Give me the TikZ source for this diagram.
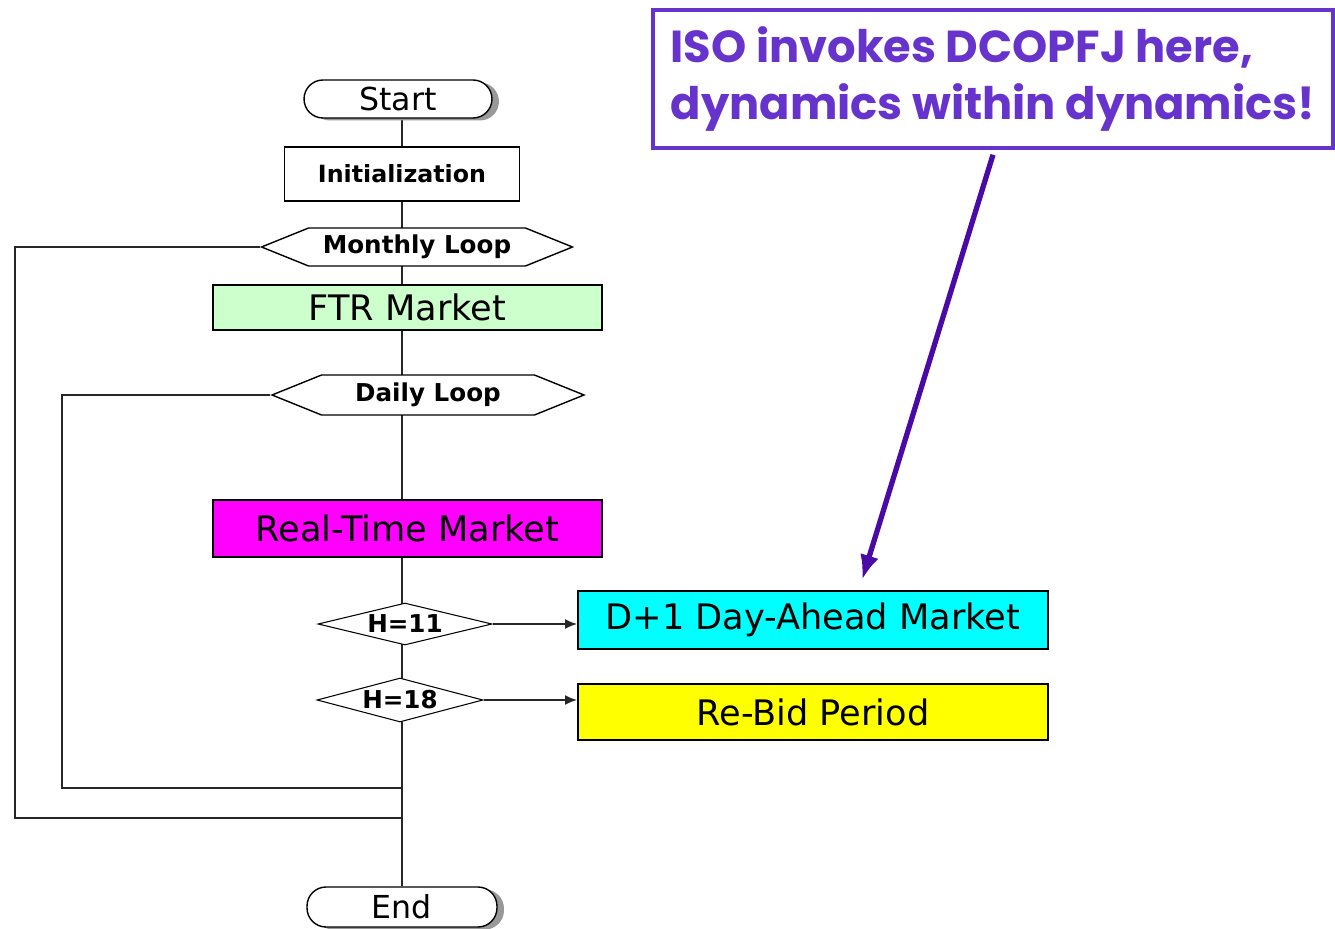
\documentclass[tikz,border=0pt]{standalone}
\usepackage{fontspec}
\setmainfont{DejaVu Sans}
\newfontfamily\callfont{Poppins}
\usetikzlibrary{shapes.geometric,shapes.symbols,shadows,backgrounds,arrows.meta}
\definecolor{ftrgreen}{HTML}{CCFFCC}
\definecolor{rtmagenta}{HTML}{FF00FF}
\definecolor{damcyan}{HTML}{00FFFF}
\definecolor{rebidyellow}{HTML}{FFFF00}
\definecolor{callpurple}{HTML}{6633CC}
\definecolor{arrowpurple}{HTML}{4A0AA6}
\begin{document}
\begin{tikzpicture}[x=0.02cm,y=-0.02cm,
    flow/.style={line width=1.1pt,black!85},
    term/.style={draw,line width=0.8pt,rounded corners=0.38cm,fill=white,inner sep=0pt,
        font=\fontsize{18}{21}\selectfont,
        drop shadow={shadow xshift=0.14cm,shadow yshift=-0.05cm,fill=black!40,opacity=1}},
    proc/.style={draw,line width=1.1pt,inner sep=0pt,font=\fontsize{20}{23}\selectfont},
    loopbox/.style={draw,line width=0.8pt,signal,signal to=west and east,signal pointer angle=44,
        inner sep=0pt,fill=white,font=\bfseries\fontsize{14}{17}\selectfont},
    decision/.style={draw,line width=0.6pt,diamond,inner sep=0pt,fill=white,
        font=\bfseries\fontsize{14}{17}\selectfont}]
\useasboundingbox (0,0) rectangle (1335,929);
\node[term,minimum width=3.76cm,minimum height=0.76cm] (start) at (398,99) {Start};
\node[proc,fill=white,font=\bfseries\fontsize{13.5}{16}\selectfont,minimum width=4.7cm,minimum height=1.08cm] (init) at (402,174) {Initialization};
\node[loopbox,minimum width=6.22cm,minimum height=0.76cm] (monthly) at (417,247) {Monthly Loop};
\node[proc,fill=ftrgreen,minimum width=7.78cm,minimum height=0.9cm] (ftr) at (407.5,307.5) {FTR Market};
\node[loopbox,minimum width=6.24cm,minimum height=0.8cm] (daily) at (428,395) {Daily Loop};
\node[proc,fill=rtmagenta,minimum width=7.78cm,minimum height=1.14cm] (rt) at (407.5,528.5) {Real-Time Market};
\node[decision,aspect=4.14,minimum width=3.48cm,minimum height=0.84cm] (h11) at (405,624) {H=11};
\node[decision,aspect=3.77,minimum width=3.32cm,minimum height=0.88cm] (h18) at (400,700) {H=18};
\node[proc,fill=damcyan,minimum width=9.4cm,minimum height=1.16cm] (dam) at (813,620) {D+1 Day-Ahead Market};
\node[proc,fill=rebidyellow,minimum width=9.4cm,minimum height=1.12cm] (rebid) at (813,712) {Re-Bid Period};
\node[term,minimum width=3.8cm,minimum height=0.8cm] (end) at (402,907) {End};
\node[draw=callpurple,line width=2pt,minimum width=13.6cm,minimum height=2.76cm,text=callpurple,
    align=left,font=\callfont\bfseries\fontsize{25.5}{33}\selectfont] (callout) at (993,79)
    {ISO invokes DCOPFJ here,\\dynamics within dynamics!};
\coordinate (mcorner) at (15,818);
\coordinate (dcorner) at (62,788);
\coordinate (target) at (862,580);
\begin{pgfonlayer}{background}
  \draw[flow] (start.south -| init.north) -- (end.north);
\end{pgfonlayer}
\draw[flow] (monthly.west) -| (mcorner) -- (mcorner -| end.north);
\draw[flow] (daily.west) -| (dcorner) -- (dcorner -| end.north);
\draw[flow,-{Latex[length=0.24cm,width=0.2cm]}] (h11.east) -- (h11.east -| dam.west);
\draw[flow,-{Latex[length=0.24cm,width=0.2cm]}] (h18.east) -- (h18.east -| rebid.west);
\draw[line width=3pt,arrowpurple,-{Latex[length=0.5cm,width=0.38cm]}] ([yshift=-0.1cm]callout.south) -- (target);
\end{tikzpicture}
\end{document}
